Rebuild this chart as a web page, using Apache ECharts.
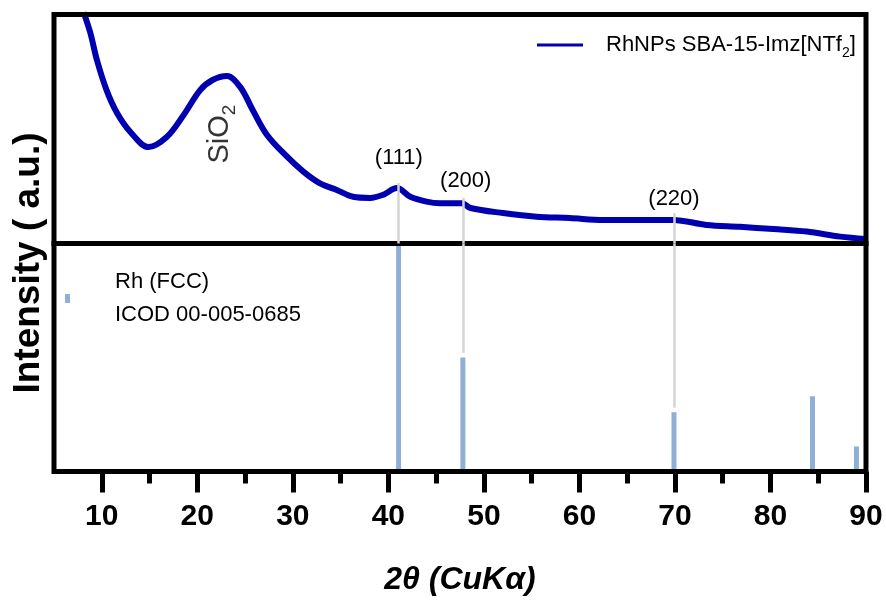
<!DOCTYPE html>
<html><head><meta charset="utf-8">
<script src="https://cdn.jsdelivr.net/npm/echarts@6/dist/echarts.min.js"></script>
<style>html,body{margin:0;padding:0;background:#fff}#c{width:886px;height:602px}</style>
</head><body><div id="c"></div>
<script>
// XRD pattern (centre of noisy band), arbitrary units
const twoTheta  = [8.1, 8.8, 9.5, 10.5, 11.6, 13.0, 14.9, 16.8, 18.5, 20.3, 21.6, 23.1, 24.5, 25.8, 27.3, 29.4, 31.1, 32.8, 34.6, 36.3, 38.1, 39.4, 40.9, 42.3, 44.0, 45.4, 47.7, 48.6, 52.0, 55.5, 59.0, 62.5, 66.0, 69.8, 73.3, 76.8, 80.3, 83.8, 87.3, 90.0];
const intensity = [101, 92, 80, 67, 57, 48.7, 42.1, 46.5, 55.7, 67, 71.4, 73.1, 68.3, 58.3, 47.4, 37.9, 31.4, 26.4, 23.4, 20.4, 19.9, 21.2, 24.2, 20.4, 18.3, 17.6, 17.6, 15.5, 13.3, 11.7, 11.1, 10.3, 10.3, 10.3, 8.1, 7.3, 6.3, 5.2, 3.0, 2.0];
// Reference Rh (FCC) stick pattern
const refPos = [41.07, 47.8, 69.9, 84.4, 89.0];
const refInt = [100, 50, 26, 33, 11];
// hkl annotations
const hklText = ['(111)', '(200)', '(220)'];
const hklPos = [41.07, 47.8, 69.9];
const hklCurveTop = [26.4, 19.9, 13.3];
const hklLabelX = [41.1, 48.1, 69.9];
const hklLabelY = [37.3, 27.3, 19.4];
const sio2Pos = [22.4, 47.8];
// axis ticks
const xMajor = [10, 20, 30, 40, 50, 60, 70, 80, 90];
const xMinor = [15, 25, 35, 45, 55, 65, 75, 85];

const FONT = 'Liberation Sans, Arial, sans-serif';
const curveName = 'RhNPs SBA-15-Imz[NTf2]';
const refName = 'Rh (FCC) ICOD 00-005-0685';

const chart = echarts.init(document.getElementById('c'), null, {renderer: 'canvas'});

const upperMarks = hklPos.map((p, i) => [{coord: [p, hklCurveTop[i]]}, {coord: [p, 0]}]);
const lowerMarks = hklPos.map((p, i) => [{coord: [p, 100]}, {coord: [p, Math.min(100, refInt[i] + 2)]}]);

chart.setOption({
  animation: false,
  backgroundColor: '#fff',
  grid: [
    {left: 54, right: 20, top: 14.5, height: 229, show: true, borderColor: '#000', borderWidth: 5, z: 5, backgroundColor: 'transparent'},
    {left: 54, right: 20, top: 243.5, height: 228, show: true, borderColor: '#000', borderWidth: 5, z: 5, backgroundColor: 'transparent'}
  ],
  xAxis: [
    {type: 'value', gridIndex: 0, position: 'bottom', min: 5, max: 90, axisLine: {show: false}, axisTick: {show: false}, axisLabel: {show: false}, splitLine: {show: false}},
    {type: 'value', gridIndex: 1, position: 'bottom', min: 5, max: 90,
      axisLine: {show: false},
      axisTick: {show: true, customValues: xMajor, length: 21, lineStyle: {color: '#000', width: 5}},
      axisLabel: {show: true, customValues: xMajor, margin: 30, fontSize: 30, fontWeight: 'bold', color: '#000', fontFamily: FONT},
      splitLine: {show: false},
      name: '2\u03b8 (CuK\u03b1)', nameLocation: 'middle', nameGap: 93,
      nameTextStyle: {fontSize: 32, fontWeight: 'bold', fontStyle: 'italic', color: '#000', fontFamily: FONT}
    },
    {type: 'value', gridIndex: 1, position: 'bottom', offset: 0, min: 5, max: 90,
      axisLine: {show: false},
      axisTick: {show: true, customValues: xMinor, length: 12, lineStyle: {color: '#000', width: 5}},
      axisLabel: {show: false}, splitLine: {show: false}
    }
  ],
  yAxis: [
    {type: 'value', gridIndex: 0, min: 0, max: 100, show: false},
    {type: 'value', gridIndex: 1, min: 0, max: 100, show: false}
  ],
  legend: [
    {
      id: 'lgCurve', show: true, orient: 'horizontal', padding: 0,
      data: [{name: curveName, icon: 'rect'}], left: 537, top: 34, itemWidth: 46, itemHeight: 3,
      itemStyle: {color: '#0000b0'},
      formatter: () => '{g|}{a|RhNPs SBA-15-Imz[NTf}{s|2}{a|]}',
      textStyle: {color: '#000', fontFamily: FONT, rich: {
        g: {width: 18},
        a: {fontSize: 22, lineHeight: 26, fontFamily: FONT, color: '#000'},
        s: {fontSize: 14, lineHeight: 14, verticalAlign: 'bottom', fontFamily: FONT, color: '#000', padding: [0, 0, -2, 0]}
      }}
    },
    {
      id: 'lgRef', show: true, orient: 'horizontal', padding: 0,
      data: [refName], left: 65, top: 271, itemWidth: 5, itemHeight: 9, icon: 'rect',
      formatter: () => '{g|}{t|Rh (FCC)}\n{g|}{t|ICOD 00-005-0685}',
      textStyle: {color: '#000', fontFamily: FONT, rich: {
        g: {width: 40},
        t: {fontSize: 22, lineHeight: 33, fontFamily: FONT, color: '#000'}
      }}
    }
  ],
  graphic: [{
    type: 'text', x: 29, y: 263, rotation: Math.PI / 2,
    style: {text: 'Intensity ( a.u.)', font: 'bold 37px ' + FONT, fill: '#000', align: 'center', verticalAlign: 'middle'}
  }],
  series: [
    {
      name: 'connectors-upper', type: 'line', xAxisIndex: 0, yAxisIndex: 0, data: [], z: 1,
      markLine: {silent: true, symbol: ['none', 'none'], label: {show: false}, lineStyle: {color: '#d4d4d4', width: 2.5, type: 'solid'}, data: upperMarks}
    },
    {
      name: 'connectors-lower', type: 'line', xAxisIndex: 1, yAxisIndex: 1, data: [], z: 1,
      markLine: {silent: true, symbol: ['none', 'none'], label: {show: false}, lineStyle: {color: '#d4d4d4', width: 2.5, type: 'solid'}, data: lowerMarks}
    },
    {
      name: curveName, type: 'line', xAxisIndex: 0, yAxisIndex: 0, z: 3,
      data: twoTheta.map((t, i) => [t, intensity[i]]),
      showSymbol: false, symbol: 'none', smooth: 0.35, clip: true,
      lineStyle: {color: '#0000b0', width: 6}, itemStyle: {color: '#0000b0'}
    },
    {
      name: refName, type: 'bar', xAxisIndex: 1, yAxisIndex: 1, barWidth: 5, z: 2,
      data: refPos.map((p, i) => [p, refInt[i]]),
      itemStyle: {color: '#8fafd7'}
    },
    {
      name: 'labels', type: 'scatter', xAxisIndex: 0, yAxisIndex: 0, symbolSize: 0, silent: true, z: 4,
      data: hklText.map((t, i) => ({value: [hklLabelX[i], hklLabelY[i]], name: t})),
      label: {show: true, position: [0, 0], align: 'center', verticalAlign: 'middle', formatter: p => p.name,
        fontSize: 22, color: '#000', fontFamily: FONT, opacity: 1},
      emphasis: {disabled: true}
    },
    {
      name: 'sio2', type: 'scatter', xAxisIndex: 0, yAxisIndex: 0, symbolSize: 0, silent: true, z: 4,
      data: [{value: sio2Pos, name: 'SiO2'}],
      emphasis: {disabled: true},
      label: {show: true, position: [0, 0], align: 'center', verticalAlign: 'middle', rotate: 90, formatter: () => '{a|SiO}{s|2}', color: '#000',
        rich: {a: {fontSize: 29, fontFamily: FONT, color: '#000', lineHeight: 30}, s: {fontSize: 19, fontFamily: FONT, color: '#000', verticalAlign: 'bottom', lineHeight: 19, padding: [0, 0, -4, 0]}}}
    }
  ]
});
</script></body></html>
